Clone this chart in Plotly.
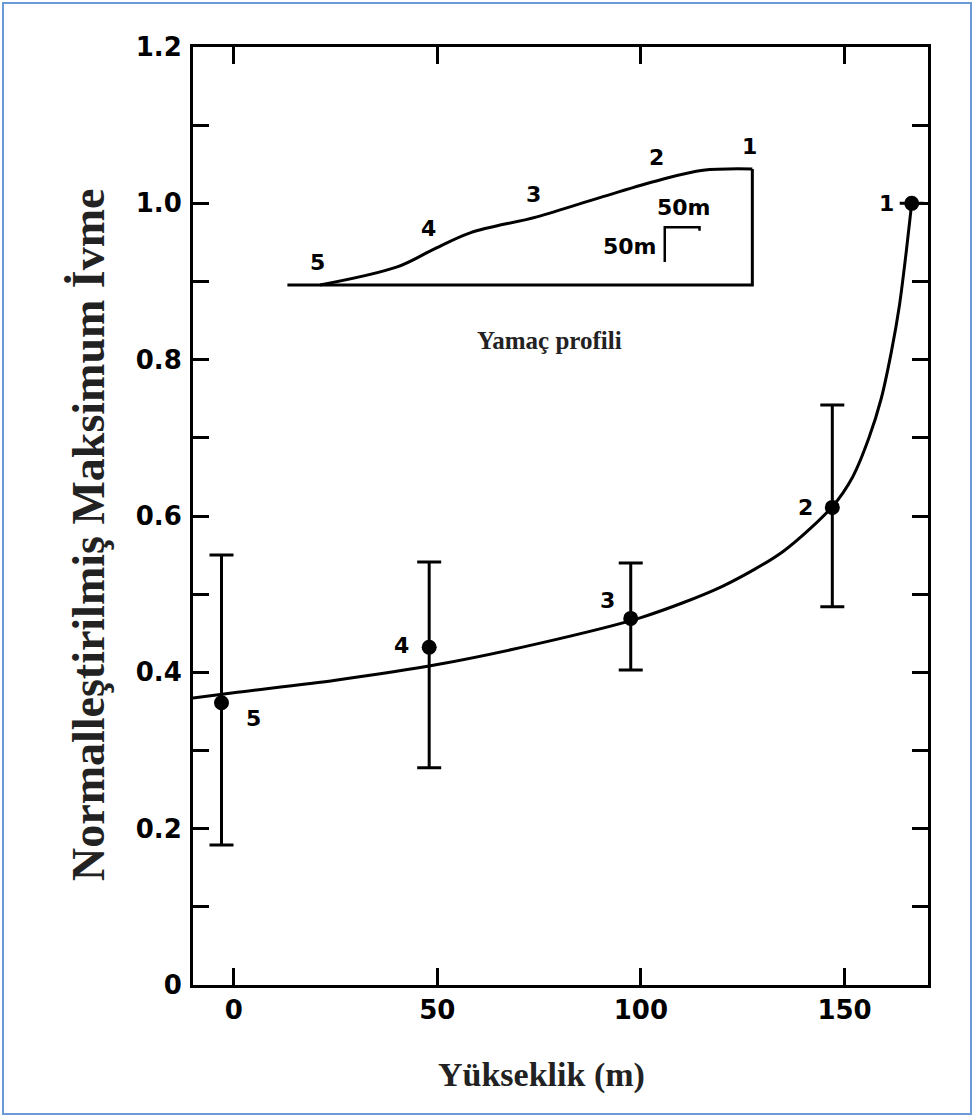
import plotly.graph_objects as go

# ---- main data: normalised peak acceleration vs elevation ----
site_labels = ["5", "4", "3", "2", "1"]
elevation_m = [-3, 48, 97.5, 147, 166.5]
norm_acc = [0.361, 0.432, 0.469, 0.611, 1.0]
err_upper = [0.55, 0.541, 0.54, 0.742, None]
err_lower = [0.179, 0.278, 0.403, 0.484, None]

# fitted trend curve
fit_x = [-10, 0, 25, 50, 75, 100, 120, 135, 147, 152, 156, 159, 161.5, 163.5, 165.2, 166.5]
fit_y = [0.367, 0.374, 0.39, 0.41, 0.437, 0.47, 0.51, 0.555, 0.612, 0.65, 0.70, 0.75, 0.81, 0.87, 0.94, 1.0]

# ---- inset: slope profile (horizontal distance m, elevation m) ----
prof_x = [0, 111, 161, 216, 312, 407, 489, 551, 622]
prof_y = [0, 26, 50, 75, 98, 127, 151, 165, 167]
base_x = [-47, 622, 622]
base_y = [0, 0, 167]
prof_site_x = [0, 161, 312, 489, 622]
prof_site_y = [0, 50, 98, 151, 167]
scale_len = 50
scale_origin = (496, 33)

x_ticks = [0, 50, 100, 150]
y_ticks = [round(0.1 * i, 1) for i in range(13)]
y_ticktext = ["0" if v == 0 else (f"{v:.1f}" if round(v * 10) % 2 == 0 else "") for v in y_ticks]

err_plus = [None if u is None else u - v for u, v in zip(err_upper, norm_acc)]
err_minus = [None if l is None else v - l for l, v in zip(err_lower, norm_acc)]

fig = go.Figure()

fig.add_trace(go.Scatter(x=fit_x, y=fit_y, mode="lines",
                         line=dict(color="black", width=3, shape="spline", smoothing=0.8),
                         showlegend=False, hoverinfo="skip"))
fig.add_trace(go.Scatter(x=elevation_m, y=norm_acc, mode="markers",
                         marker=dict(color="black", size=15),
                         error_y=dict(type="data", array=err_plus, arrayminus=err_minus,
                                      color="black", thickness=3, width=12),
                         showlegend=False))

# inset traces
fig.add_trace(go.Scatter(x=base_x, y=base_y, mode="lines", xaxis="x2", yaxis="y2",
                         line=dict(color="black", width=3), showlegend=False, hoverinfo="skip"))
fig.add_trace(go.Scatter(x=prof_x, y=prof_y, mode="lines", xaxis="x2", yaxis="y2",
                         line=dict(color="black", width=3, shape="spline"), showlegend=False,
                         hoverinfo="skip"))
sx, sy = scale_origin
fig.add_trace(go.Scatter(x=[sx, sx, sx + scale_len, sx + scale_len],
                         y=[sy, sy + scale_len, sy + scale_len, sy + scale_len - 5],
                         mode="lines", xaxis="x2", yaxis="y2",
                         line=dict(color="black", width=2.5), showlegend=False, hoverinfo="skip"))

label_font = dict(family="DejaVu Sans", size=22, color="black", weight="bold")
annotations = []
shifts = [(32, -16), (-28, 2), (-23, 18), (-27, 0), (-25, 0)]
for lab, x, y, (dx, dy) in zip(site_labels, elevation_m, norm_acc, shifts):
    annotations.append(dict(x=x, y=y, xref="x", yref="y", text=lab, showarrow=False,
                            xshift=dx, yshift=dy, font=label_font))
for lab, x, y in zip(site_labels, prof_site_x, prof_site_y):
    annotations.append(dict(x=x, y=y, xref="x2", yref="y2", text=lab, showarrow=False,
                            xshift=-3, yshift=22, font=label_font))
annotations.append(dict(x=sx + scale_len / 2 + 2, y=sy + scale_len, xref="x2", yref="y2",
                        text="50m", showarrow=False, yshift=20, font=label_font))
annotations.append(dict(x=sx, y=sy + scale_len / 2, xref="x2", yref="y2",
                        text="50m", showarrow=False, xanchor="right", xshift=-6, yshift=-2,
                        font=label_font))
annotations.append(dict(x=0.4857, y=0.6876, xref="paper", yref="paper", text="Yamaç profili",
                        xanchor="center", yanchor="middle",
                        showarrow=False, font=dict(family="Liberation Serif", size=25,
                                                   color="#222", weight="bold")))
annotations.append(dict(x=0.4735, y=-0.096, xref="paper", yref="paper", text="Yükseklik (m)",
                        xanchor="center", yanchor="middle",
                        showarrow=False, font=dict(family="Liberation Serif", size=34,
                                                   color="#222", weight="bold")))
annotations.append(dict(x=-0.1429, y=0.4797, xref="paper", yref="paper",
                        text="Normalleştirilmiş Maksimum İvme", textangle=-90,
                        xanchor="center", yanchor="middle",
                        showarrow=False, font=dict(family="Liberation Serif", size=46,
                                                   color="#222", weight="bold")))

tickfont = dict(family="DejaVu Sans", size=26, color="black", weight="bold")
fig.update_layout(
    width=974, height=1117,
    margin=dict(l=193, r=46, t=47, b=132),
    paper_bgcolor="white", plot_bgcolor="white",
    xaxis=dict(range=[-10, 170.5], tickvals=x_ticks, ticktext=[str(v) for v in x_ticks],
               ticks="inside", ticklen=17, tickwidth=2.5, tickcolor="black",
               showline=True, linecolor="black", linewidth=3, mirror="ticks",
               showgrid=False, zeroline=False, tickfont=tickfont, ticklabelstandoff=0),
    yaxis=dict(range=[0, 1.2], tickvals=y_ticks, ticktext=y_ticktext,
               ticks="inside", ticklen=16, tickwidth=2.5, tickcolor="black",
               showline=True, linecolor="black", linewidth=3, mirror="ticks",
               showgrid=False, zeroline=False, tickfont=tickfont, ticklabelstandoff=3),
    xaxis2=dict(domain=[0.1184, 0.7714], range=[-57.6, 633], anchor="y2",
                visible=False, showgrid=False, zeroline=False),
    yaxis2=dict(domain=[0.7303, 0.9009], range=[-21.6, 208.6], anchor="x2",
                visible=False, showgrid=False, zeroline=False),
    annotations=annotations,
    shapes=[dict(type="rect", xref="paper", yref="paper",
                 x0=-0.2585, x1=1.0585, y0=-0.1375, y1=1.0469,
                 line=dict(color="#6b9ad6", width=2), fillcolor="rgba(0,0,0,0)")],
)

fig.write_html("out.html", config={"displayModeBar": False},
               post_script="document.body.style.margin='0';document.body.style.overflow='hidden';")
